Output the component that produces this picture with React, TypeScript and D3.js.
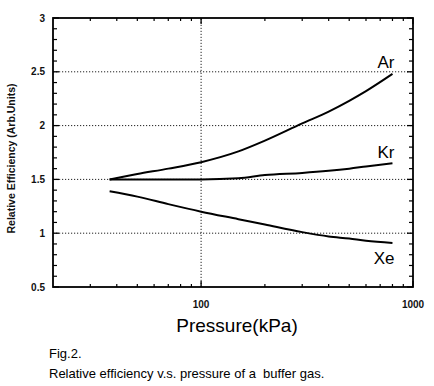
import * as d3 from 'd3';

// pressure (kPa) and relative efficiency
const pressure = [37, 50, 70, 100, 150, 200, 300, 400, 500, 600, 800];
const arValues = [1.5, 1.55, 1.6, 1.66, 1.76, 1.86, 2.02, 2.13, 2.23, 2.32, 2.48];
const krValues = [1.5, 1.5, 1.5, 1.5, 1.51, 1.54, 1.56, 1.58, 1.6, 1.62, 1.65];
const xeValues = [1.39, 1.34, 1.27, 1.2, 1.13, 1.08, 1.01, 0.97, 0.95, 0.93, 0.91];
const seriesNames = ['Ar', 'Kr', 'Xe'];

const yTicks = [0.5, 1, 1.5, 2, 2.5, 3];
const yTickLabels = ['0.5', '1', '1.5', '2', '2.5', '3'];
const xTicks = [100, 1000];
const xTickLabels = ['100', '1000'];

const font = "'Liberation Sans', Arial, sans-serif";

function App() {
    const width = 434;
    const height = 386;
    const margin = { top: 18, right: 21, bottom: 99, left: 53 };

    const x = d3.scaleLog().domain([20, 1000]).range([margin.left, width - margin.right]);
    const y = d3.scaleLinear().domain([0.5, 3]).range([height - margin.bottom, margin.top]);
    const [x0, x1] = x.range();
    const [y0, y1] = y.range();

    const line = d3.line<number>()
        .x((_, i) => x(pressure[i]))
        .y(d => y(d))
        .curve(d3.curveMonotoneX);

    const series = [arValues, krValues, xeValues];
    // label offsets from the last point of each curve
    const labelDy = [-6, -5, 21];

    const xMinor = x.ticks().filter(t => !xTicks.includes(t) && t > 20);
    const yMinor = d3.range(5, 31).map(v => v / 10).filter(v => !yTicks.some(t => Math.abs(t - v) < 1e-6));

    return (
        <div style={{ position: 'absolute', left: 0, top: 0 }}>
            <svg width={width} height={height} style={{ background: '#fff', display: 'block' }}>
                {/* grid */}
                {yTicks.filter(t => t > 0.5 && t < 3).map(t => (
                    <line key={'gy' + t} x1={x0} x2={x1} y1={y(t)} y2={y(t)}
                        stroke="#222" strokeWidth={1} strokeDasharray="1.2,1.8" />
                ))}
                <line x1={x(100)} x2={x(100)} y1={y0} y2={y1} stroke="#222" strokeWidth={1} strokeDasharray="1.2,1.8" />

                {/* y ticks, both sides */}
                {yTicks.map(t => (
                    <g key={'yt' + t}>
                        <line x1={x0} x2={x0 + 6} y1={y(t)} y2={y(t)} stroke="#000" strokeWidth={1.3} />
                        <line x1={x1} x2={x1 - 6} y1={y(t)} y2={y(t)} stroke="#000" strokeWidth={1.3} />
                    </g>
                ))}
                {yMinor.map(t => (
                    <g key={'ym' + t}>
                        <line x1={x0} x2={x0 + 4} y1={y(t)} y2={y(t)} stroke="#000" strokeWidth={1.2} />
                        <line x1={x1} x2={x1 - 4} y1={y(t)} y2={y(t)} stroke="#000" strokeWidth={1.2} />
                    </g>
                ))}
                {/* x ticks, top and bottom */}
                {xMinor.map(t => (
                    <g key={'xm' + t}>
                        <line x1={x(t)} x2={x(t)} y1={y0} y2={y0 - 3} stroke="#000" strokeWidth={1.2} />
                        <line x1={x(t)} x2={x(t)} y1={y1} y2={y1 + 3} stroke="#000" strokeWidth={1.2} />
                    </g>
                ))}
                {xTicks.map(t => (
                    <g key={'xt' + t}>
                        <line x1={x(t)} x2={x(t)} y1={y0} y2={y0 - 6} stroke="#000" strokeWidth={1.3} />
                        <line x1={x(t)} x2={x(t)} y1={y1} y2={y1 + 6} stroke="#000" strokeWidth={1.3} />
                    </g>
                ))}

                {/* frame */}
                <rect x={x0} y={y1} width={x1 - x0} height={y0 - y1} fill="none" stroke="#000" strokeWidth={1.8} />

                {/* tick labels */}
                {yTicks.map((t, i) => (
                    <text key={'yl' + t} x={x0 - 8} y={y(t)} dy="0.35em" textAnchor="end"
                        fontFamily={font} fontSize={10} fontWeight="bold" fill="#111">{yTickLabels[i]}</text>
                ))}
                {xTicks.map((t, i) => (
                    <text key={'xl' + t} x={x(t)} y={y0 + 21} textAnchor="middle"
                        fontFamily={font} fontSize={10} fontWeight="bold" fill="#111">{xTickLabels[i]}</text>
                ))}

                {/* curves */}
                {series.map((vals, i) => (
                    <path key={seriesNames[i]} d={line(vals) || ''} fill="none" stroke="#000" strokeWidth={2} />
                ))}
                {series.map((vals, i) => (
                    <text key={'lab' + i} x={x(pressure[pressure.length - 1]) + 2} y={y(vals[vals.length - 1]) + labelDy[i]}
                        textAnchor="end" fontFamily={font} fontSize={17} fill="#000">{seriesNames[i]}</text>
                ))}

                {/* axis titles */}
                <text x={(x0 + x1) / 2 + 4} y={332} textAnchor="middle" fontFamily={font} fontSize={19} fill="#000">Pressure(kPa)</text>
                <text transform={`translate(15,${(y0 + y1) / 2 + 6}) rotate(-90)`} textAnchor="middle"
                    fontFamily={font} fontSize={10.5} fontWeight="bold" fill="#111">Relative Efficiency (Arb.Units)</text>

                {/* caption */}
                <text x={49} y={358} fontFamily={font} fontSize={13} fill="#000">Fig.2.</text>
                <text x={49} y={378} fontFamily={font} fontSize={13} fill="#000" style={{ whiteSpace: 'pre' }}>Relative efficiency v.s. pressure of a  buffer gas.</text>
            </svg>
        </div>
    );
}

export default App;
